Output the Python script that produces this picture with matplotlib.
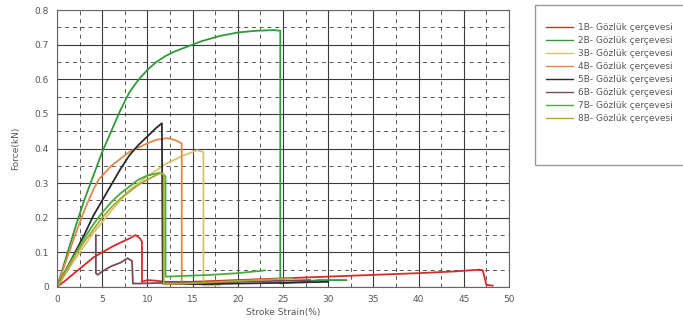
import numpy as np
import matplotlib
matplotlib.use('Agg')
import matplotlib.pyplot as plt
from matplotlib.patches import Rectangle

# specimen curves, strain (%) vs force (kN)
labels = ['1B- Gözlük çerçevesi', '2B- Gözlük çerçevesi', '3B- Gözlük çerçevesi',
          '4B- Gözlük çerçevesi', '5B- Gözlük çerçevesi', '6B- Gözlük çerçevesi',
          '7B- Gözlük çerçevesi', '8B- Gözlük çerçevesi']
colors = ['#d42a2a', '#2f9a3a', '#d9c36a', '#e0894a', '#2a2a2a', '#7a4a5a', '#4caa3c', '#a8a838']

x_1b = [0, 1, 2, 3, 4, 5, 6, 7, 8, 8.7, 9.2, 9.4, 9.4, 10, 11, 12, 15, 20, 25, 30, 35, 40, 44, 46.7, 47.1, 47.5, 48.2]
y_1b = [0, 0.02, 0.042, 0.063, 0.085, 0.1, 0.115, 0.128, 0.14, 0.15, 0.14, 0.13, 0.015, 0.02, 0.018, 0.015, 0.015, 0.02, 0.025, 0.03, 0.035, 0.04, 0.045, 0.05, 0.048, 0.006, 0.004]

x_2b = [0, 1, 2, 3, 4, 5, 6, 7, 8, 9, 10, 11, 12, 13, 14, 15, 16, 18, 20, 22, 24, 24.7, 24.7, 25.5, 27, 29, 32]
y_2b = [0, 0.085, 0.17, 0.25, 0.32, 0.39, 0.45, 0.51, 0.562, 0.598, 0.627, 0.65, 0.667, 0.68, 0.69, 0.70, 0.71, 0.725, 0.735, 0.74, 0.742, 0.74, 0.01, 0.012, 0.015, 0.02, 0.02]

x_3b = [0, 2, 4, 6, 8, 10, 12, 14, 15.5, 16.2, 16.2, 18]
y_3b = [0, 0.08, 0.155, 0.22, 0.28, 0.32, 0.355, 0.38, 0.395, 0.39, 0.005, 0.005]

x_4b = [0, 1, 2, 3, 4, 4.6, 6, 8, 10, 11, 12.2, 13, 13.8, 13.8, 16, 20]
y_4b = [0, 0.075, 0.15, 0.22, 0.28, 0.31, 0.35, 0.39, 0.415, 0.425, 0.43, 0.425, 0.415, 0.01, 0.01, 0.012]

x_5b = [0, 1, 2, 3, 4, 5, 6, 7, 8, 9, 10, 11, 11.6, 11.7, 12, 16, 20, 25, 30]
y_5b = [0, 0.05, 0.1, 0.15, 0.205, 0.25, 0.295, 0.34, 0.38, 0.41, 0.435, 0.46, 0.473, 0.01, 0.01, 0.008, 0.01, 0.012, 0.015]

x_6b = [4.3, 4.3, 4.5, 5, 6, 7, 7.8, 8.3, 8.4, 9, 12, 20, 28]
y_6b = [0.15, 0.04, 0.035, 0.045, 0.06, 0.07, 0.083, 0.075, 0.01, 0.01, 0.012, 0.015, 0.02]

x_7b = [0, 1, 2, 3, 4, 5, 6, 7, 8, 9, 10, 11.4, 12, 12, 14, 17, 20, 23]
y_7b = [0, 0.05, 0.095, 0.14, 0.18, 0.215, 0.245, 0.27, 0.29, 0.31, 0.322, 0.33, 0.32, 0.03, 0.032, 0.035, 0.04, 0.048]

x_8b = [0, 1, 2, 3, 4, 5, 6, 7, 8, 9, 10, 11.5, 11.8, 11.8, 14, 18, 22, 26]
y_8b = [0, 0.045, 0.09, 0.13, 0.165, 0.2, 0.23, 0.255, 0.275, 0.295, 0.31, 0.33, 0.325, 0.01, 0.01, 0.015, 0.02, 0.025]

x_data = [x_1b, x_2b, x_3b, x_4b, x_5b, x_6b, x_7b, x_8b]
y_data = [y_1b, y_2b, y_3b, y_4b, y_5b, y_6b, y_7b, y_8b]

x_ticks = [0, 5, 10, 15, 20, 25, 30, 35, 40, 45, 50]
y_ticks = [0, 0.1, 0.2, 0.3, 0.4, 0.5, 0.6, 0.7, 0.8]
y_ticklabels = ['0', '0.1', '0.2', '0.3', '0.4', '0.5', '0.6', '0.7', '0.8']

fig = plt.figure(figsize=(6.83, 3.22), dpi=100)
ax = fig.add_axes([57 / 683, 1 - 287 / 322, (509 - 57) / 683, (287 - 10) / 322])

for xs, ys, c in zip(x_data, y_data, colors):
    ax.plot(xs, ys, color=c, linewidth=1.3)

ax.set_xlim(0, 50)
ax.set_ylim(0, 0.8)
ax.set_xticks(x_ticks)
ax.set_yticks(y_ticks)
ax.set_yticklabels(y_ticklabels)
ax.set_xticks(np.arange(2.5, 50, 5), minor=True)
ax.set_yticks(np.arange(0.05, 0.8, 0.1), minor=True)

ax.grid(True, which='major', color='#3a3a3a', linewidth=0.8, linestyle='-')
ax.grid(True, which='minor', color='#555555', linewidth=0.7, linestyle=(0, (4, 4)))
ax.set_axisbelow(True)
ax.tick_params(which='both', length=0, labelsize=6.5, labelcolor='#555555', pad=6)
for sp in ax.spines.values():
    sp.set_color('#666666')
    sp.set_linewidth(0.8)

ax.set_xlabel('Stroke Strain(%)', fontsize=6.5, color='#555555', labelpad=3)
ax.set_ylabel('Force(kN)', fontsize=6.5, color='#555555', labelpad=10)

# legend box, runs off the right edge like the original
fig.patches.append(Rectangle((535 / 683, 1 - 165 / 322), 0.3, 160 / 322,
                             transform=fig.transFigure, facecolor='white',
                             edgecolor='#999999', linewidth=1.0))
handles = [plt.Line2D([], [], color=c, linewidth=1.0) for c in colors]
fig.legend(handles, labels, loc='upper left', bbox_to_anchor=(546 / 683, 1 - 23 / 322),
           frameon=False, fontsize=6.5, labelcolor='#555555', handlelength=3.0,
           handletextpad=0.6, labelspacing=0.45, borderpad=0, borderaxespad=0)

fig.savefig('out.png', dpi=100)
